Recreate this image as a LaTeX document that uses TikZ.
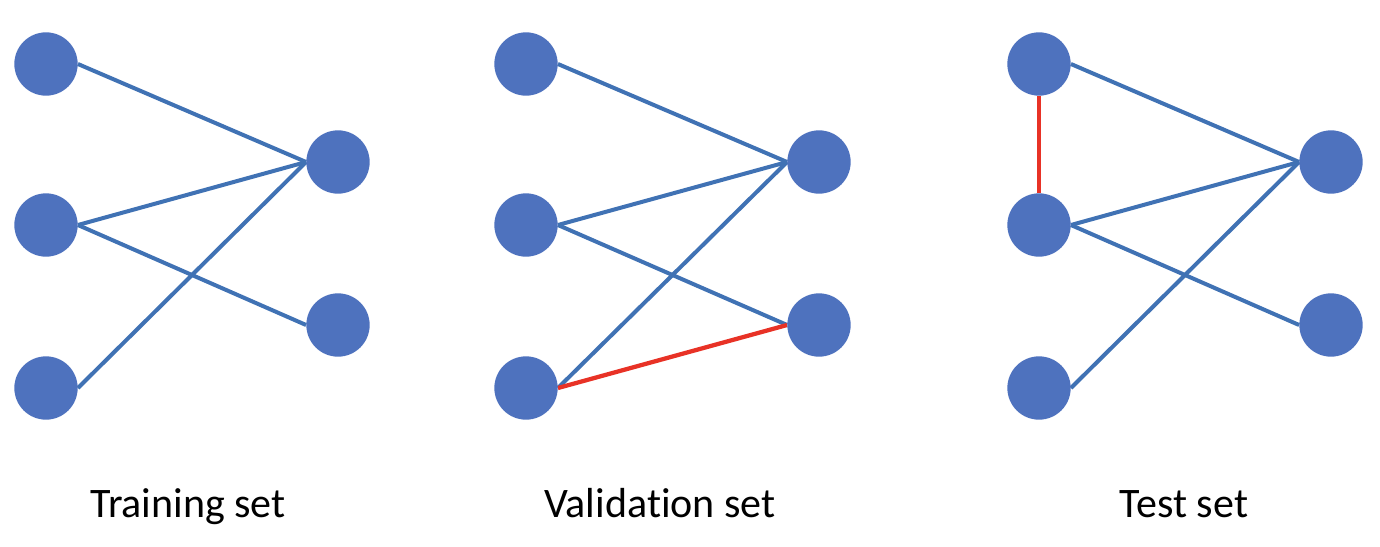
\documentclass[tikz,border=0pt]{standalone}
\usepackage{fontspec}
\setmainfont[Ligatures={NoCommon}]{Carlito}
\usetikzlibrary{backgrounds}
\definecolor{nodeblue}{RGB}{78,114,190}
\definecolor{edgeblue}{RGB}{64,114,180}
\definecolor{edgered}{RGB}{232,50,38}
\begin{document}
\begin{tikzpicture}[x=0.75pt,y=-0.75pt,
  vtx/.style={circle,fill=nodeblue,draw=none,minimum size=47.5pt,inner sep=0pt},
  bedge/.style={draw=edgeblue,line width=3pt},
  redge/.style={draw=edgered,line width=3.2pt},
  caption/.style={font=\fontsize{31.5}{36}\selectfont,anchor=base}]
\useasboundingbox (0,0) rectangle (1380,546);
% panel 1
\node[vtx] (a1) at (46,64) {};
\node[vtx] (a2) at (46,225) {};
\node[vtx] (a3) at (46,388) {};
\node[vtx] (a4) at (338,162) {};
\node[vtx] (a5) at (338,325) {};
% panel 2
\node[vtx] (b1) at (526,64) {};
\node[vtx] (b2) at (526,225) {};
\node[vtx] (b3) at (526,388) {};
\node[vtx] (b4) at (819,162) {};
\node[vtx] (b5) at (819,325) {};
% panel 3
\node[vtx] (c1) at (1039,64) {};
\node[vtx] (c2) at (1039,225) {};
\node[vtx] (c3) at (1039,388) {};
\node[vtx] (c4) at (1331,162) {};
\node[vtx] (c5) at (1331,325) {};
\begin{pgfonlayer}{background}
\foreach \p in {a,b,c}{
  \draw[bedge] (\p1.east) -- (\p4.west);
  \draw[bedge] (\p2.east) -- (\p4.west);
  \draw[bedge] (\p2.east) -- (\p5.west);
  \draw[bedge] (\p3.east) -- (\p4.west);
}
\draw[redge] (b3.east) -- (b5.west);
\draw[redge] (c1.south) -- (c2.north);
\end{pgfonlayer}
\node[caption] (t1) at (188,517) {Training set};
\node[caption] (t2) at (660,517) {Validation set};
\node[caption] (t3) at (1184,517) {Test set};
\end{tikzpicture}
\end{document}
